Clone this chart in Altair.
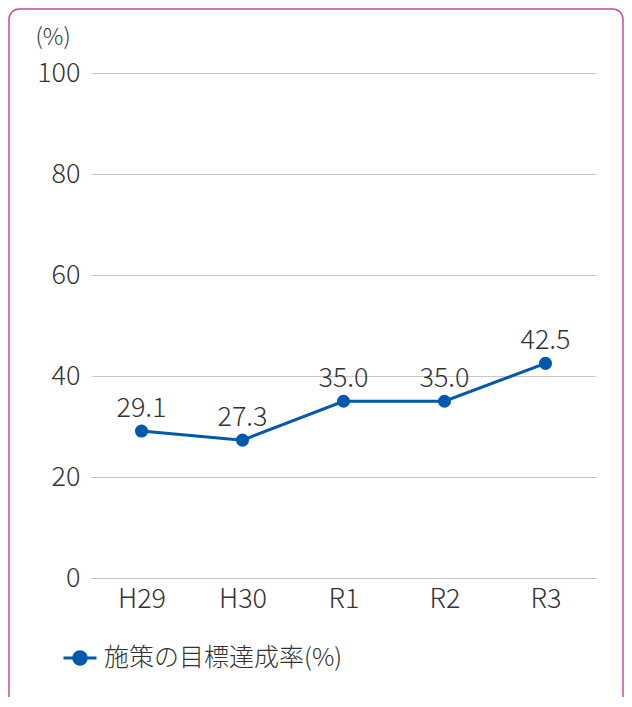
import altair as alt
import pandas as pd

years = ["H29", "H30", "R1", "R2", "R3"]
values = [29.1, 27.3, 35.0, 35.0, 42.5]
series_name = "施策の目標達成率(%)"
y_ticks = [0, 20, 40, 60, 80, 100]

df = pd.DataFrame({"year": years, "value": values, "series": [series_name] * len(years)})
df["label"] = [f"{v:.1f}" for v in values]

FONT = "Noto Sans CJK JP"
BLUE = "#0059aa"
TXT = "#333333"

x = alt.X("year:N", sort=years, title=None,
          axis=alt.Axis(labelAngle=0, domain=False, ticks=False, grid=False,
                        labelPadding=8, labelFontSize=27, labelFontWeight=300,
                        labelColor=TXT, labelFont=FONT))
y = alt.Y("value:Q", scale=alt.Scale(domain=[0, 100], nice=False),
          axis=alt.Axis(values=y_ticks, title="(%)", titleAngle=0, titleX=-56, titleY=-36,
                        titleAlign="left", titleBaseline="middle", titleFontSize=23,
                        titleFontWeight=300, titleColor=TXT, titleFont=FONT,
                        domain=False, ticks=False, grid=True, gridColor="#c8c8c8",
                        gridWidth=1.2, labelPadding=11, labelFontSize=27,
                        labelFontWeight=300, labelColor=TXT, labelFont=FONT))

base = alt.Chart(df)

border = alt.Chart(pd.DataFrame({"a": [0]})).mark_rect(
    fill="transparent", stroke="#c94a9e", strokeWidth=1.5, cornerRadius=10
).encode(x=alt.value(-82), x2=alt.value(532), y=alt.value(-64), y2=alt.value(700))

line = base.mark_line(color=BLUE, strokeWidth=3).encode(x=x, y=y)

sym = "M-1,0L1,0M0.38,0A0.38,0.38,0,1,1,-0.38,0A0.38,0.38,0,1,1,0.38,0Z"
points = base.mark_point(filled=True, size=170, opacity=1).encode(
    x=x, y=y,
    color=alt.Color("series:N", scale=alt.Scale(range=[BLUE]), title=None,
                    legend=alt.Legend(orient="none", legendX=-29, legendY=567,
                                      symbolType=sym, symbolSize=1089,
                                      symbolStrokeColor=BLUE, symbolFillColor=BLUE,
                                      symbolStrokeWidth=3, labelFontSize=25,
                                      labelFontWeight=300,
                                      labelFont=FONT, labelColor=TXT, labelOffset=6,
                                      labelLimit=400))
)

labels = base.mark_text(fontSize=27, fontWeight=300, font=FONT, color=TXT,
                        baseline="alphabetic", dy=-14).encode(
    x=x, y=y, text="label:N")

chart = alt.layer(border, line, points, labels).properties(
    width=505, height=505,
    autosize=alt.AutoSizeParams(type="none"),
    padding={"left": 83, "top": 65, "right": 28, "bottom": 119},
).configure(font=FONT).configure_view(stroke=None)

chart.save("out.html", embed_options={"renderer": "svg", "actions": False})
